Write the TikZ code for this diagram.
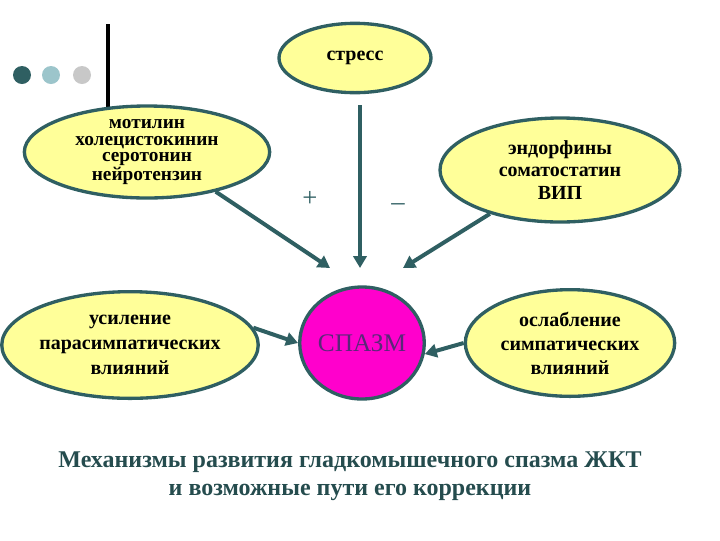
\documentclass[tikz,border=0pt]{standalone}
\usepackage{fontspec}
\setmainfont{Liberation Serif}
\usetikzlibrary{shapes.geometric,arrows.meta}
\definecolor{edge}{HTML}{2F5F62}
\definecolor{fillY}{HTML}{FFFF99}
\definecolor{spasmc}{HTML}{FF00CC}
\begin{document}
\begin{tikzpicture}[x=0.75pt,y=-0.75pt,
  ell/.style={ellipse,draw=edge,line width=2.5pt,fill=fillY,inner sep=0pt,align=center},
  arr/.style={draw=edge,line width=3pt,-{Triangle[length=9pt,width=10pt]}},
  sgn/.style={font=\fontsize{20}{20}\selectfont,text=edge}]
\useasboundingbox (0,0) rectangle (720,540);
\fill[edge] (22,75) circle (9);
\fill[fill={rgb,255:red,156;green,197;blue,203}] (51,75) circle (9);
\fill[fill={rgb,255:red,200;green,200;blue,200}] (82,75) circle (9);
\draw[line width=2.5pt] (108,24) -- (108,108);
\node[ell,minimum width=114pt,minimum height=52pt,font=\bfseries\fontsize{15}{15}\selectfont] (stress) at (355,58) {стресс};
\node[ell,minimum width=184pt,minimum height=68pt,font=\bfseries\fontsize{14.5}{12.4}\selectfont] (mot) at (147,152) {мотилин\\холецистокинин\\серотонин\\нейротензин};
\node[ell,minimum width=180pt,minimum height=78pt,font=\bfseries\fontsize{15}{17}\selectfont] (endo) at (560,170) {эндорфины\\соматостатин\\ВИП};
\node[ell,minimum width=160pt,minimum height=80pt,font=\bfseries\fontsize{15}{19}\selectfont] (usil) at (130,345) {усиление\\парасимпатических\\влияний};
\node[ell,minimum width=157pt,minimum height=80pt,font=\bfseries\fontsize{15}{18}\selectfont] (osl) at (570,343) {ослабление\\симпатических\\влияний};
\node[ellipse,draw=edge,line width=2.5pt,fill=spasmc,minimum width=93pt,minimum height=84pt,inner sep=0pt,
  font=\fontsize{19}{19}\selectfont,text={rgb,255:red,90;green,40;blue,120}] (sp) at (362,343) {СПАЗМ};
\coordinate (a1) at (330,268);
\coordinate (a2) at (360,268);
\coordinate (a3) at (403,268);
\coordinate (s0) at (360,105);
\draw[arr] (mot.-30) -- (a1);
\draw[arr] (s0) -- (a2);
\draw[arr] (endo.212) -- (a3);
\draw[arr] (usil.8) -- (sp.west);
\draw[arr] (osl.west) -- (sp.-10);
\node[sgn] (plus) at (310,199) {+};
\node[sgn] (minus) at (398,207) {–};
\node[font=\fontsize{18}{21}\selectfont\bfseries,text=edge!80!black,align=center] (cap) at (350,476)
 {Механизмы развития гладкомышечного спазма ЖКТ\\и возможные пути его коррекции};
\end{tikzpicture}
\end{document}
